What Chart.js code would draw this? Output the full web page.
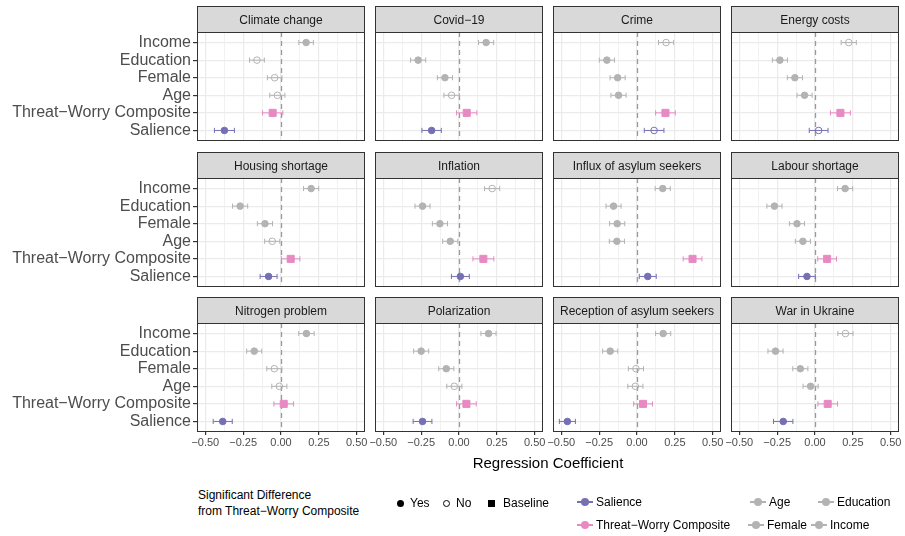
<!DOCTYPE html>
<html>
<head>
<meta charset="utf-8">
<script src="https://cdn.jsdelivr.net/npm/chart.js@4.4.1/dist/chart.umd.min.js"></script>
<style>
  body { margin: 0; background: #fff; width: 905px; height: 536px; position: relative; overflow: hidden;
         font-family: "Liberation Sans", Arial, sans-serif; }
  canvas { position: absolute; }
  .t { position: absolute; white-space: nowrap; color: #000; font-size: 12px; line-height: 16px; }
  .key { position: absolute; width: 16px; height: 10px; }
  .key .ln { position: absolute; left: 0; top: 4px; width: 16px; height: 1.5px; }
  .key .pt { position: absolute; left: 4px; top: 1px; width: 8px; height: 8px; border-radius: 50%; }
  .shp { position: absolute; box-sizing: border-box; }
</style>
</head>
<body>
<div id="wrap"></div>
<div class="t" style="left:0;width:1096px;top:454px;font-size:15px;line-height:18px;text-align:center;color:#000;">Regression Coefficient</div>

<div class="t" style="left:198px;top:487px;">Significant Difference<br>from Threat−Worry Composite</div>
<div class="shp" style="left:397px;top:500px;width:7px;height:7px;border-radius:50%;background:#000;"></div>
<div class="t" style="left:410px;top:495px;">Yes</div>
<div class="shp" style="left:443px;top:500px;width:7px;height:7px;border-radius:50%;border:1px solid #000;"></div>
<div class="t" style="left:456px;top:495px;">No</div>
<div class="shp" style="left:488px;top:500px;width:7px;height:7px;background:#000;"></div>
<div class="t" style="left:503px;top:495px;">Baseline</div>

<script>
const topics = ["Climate change", "Covid−19", "Crime", "Energy costs",
  "Housing shortage", "Inflation", "Influx of asylum seekers", "Labour shortage",
  "Nitrogen problem", "Polarization", "Reception of asylum seekers", "War in Ukraine"];
const variables = ["Income", "Education", "Female", "Age", "Threat−Worry Composite", "Salience"];
const xTicks = [-0.5, -0.375, -0.25, -0.125, 0, 0.125, 0.25, 0.375, 0.5];

// point estimates, order follows `variables`
const estimates = [
  [0.166, -0.159, -0.042, -0.024, -0.055, -0.374],
  [0.179, -0.270, -0.093, -0.049, 0.051, -0.181],
  [0.192, -0.199, -0.128, -0.122, 0.188, 0.113],
  [0.223, -0.232, -0.133, -0.069, 0.168, 0.024],
  [0.199, -0.270, -0.106, -0.058, 0.064, -0.082],
  [0.219, -0.241, -0.126, -0.058, 0.161, 0.009],
  [0.170, -0.155, -0.131, -0.133, 0.367, 0.071],
  [0.199, -0.268, -0.119, -0.080, 0.080, -0.053],
  [0.168, -0.177, -0.044, -0.011, 0.018, -0.385],
  [0.195, -0.250, -0.084, -0.031, 0.049, -0.241],
  [0.173, -0.177, -0.007, -0.011, 0.040, -0.460],
  [0.201, -0.261, -0.097, -0.029, 0.084, -0.210]
];
// half width of the confidence intervals
const halfCI = [
  [0.048, 0.049, 0.048, 0.050, 0.067, 0.066],
  [0.050, 0.050, 0.050, 0.051, 0.067, 0.064],
  [0.050, 0.050, 0.050, 0.050, 0.065, 0.065],
  [0.050, 0.050, 0.050, 0.050, 0.066, 0.062],
  [0.050, 0.050, 0.050, 0.050, 0.061, 0.056],
  [0.050, 0.050, 0.050, 0.050, 0.069, 0.059],
  [0.050, 0.050, 0.050, 0.050, 0.062, 0.056],
  [0.050, 0.050, 0.050, 0.050, 0.062, 0.055],
  [0.051, 0.050, 0.050, 0.050, 0.065, 0.063],
  [0.050, 0.050, 0.050, 0.050, 0.065, 0.062],
  [0.050, 0.050, 0.050, 0.050, 0.062, 0.053],
  [0.050, 0.050, 0.050, 0.050, 0.065, 0.064]
];
// Y = significant, N = not significant, B = baseline
const signif = [
  ["Y", "N", "N", "N", "B", "Y"],
  ["Y", "Y", "Y", "N", "B", "Y"],
  ["N", "Y", "Y", "Y", "B", "N"],
  ["N", "Y", "Y", "Y", "B", "N"],
  ["Y", "Y", "Y", "N", "B", "Y"],
  ["N", "Y", "Y", "Y", "B", "Y"],
  ["Y", "Y", "Y", "Y", "B", "Y"],
  ["Y", "Y", "Y", "Y", "B", "Y"],
  ["Y", "Y", "N", "N", "B", "Y"],
  ["Y", "Y", "Y", "N", "B", "Y"],
  ["Y", "Y", "N", "N", "B", "Y"],
  ["N", "Y", "Y", "Y", "B", "Y"]
];

const grey = "#B3B3B3", pink = "#E78AC3", purple = "#7570B3";
const varColors = [grey, grey, grey, grey, pink, purple];

const PLOT_W = 168, PLOT_H = 109, STRIP_H = 26, PAD = 16;
const colLeft = [197, 375, 553, 731];
const rowTop = [32, 178, 323];

const isMajor = v => Math.abs(v * 4 - Math.round(v * 4)) < 1e-9;
const fmt = v => (v < 0 ? "−" : "") + Math.abs(v).toFixed(2);

const panelDecor = {
  id: "panelDecor",
  beforeDatasetsDraw(chart, args, opts) {
    const { ctx, chartArea: a, scales: { x, y } } = chart;
    const p = opts.panel;
    ctx.save();
    // dashed reference line at zero
    const x0 = Math.round(x.getPixelForValue(0)) + 0.5;
    ctx.strokeStyle = "#9A9A9A";
    ctx.lineWidth = 1.3;
    ctx.setLineDash([5, 4]);
    ctx.beginPath();
    ctx.moveTo(x0, a.top);
    ctx.lineTo(x0, a.bottom);
    ctx.stroke();
    ctx.setLineDash([]);
    // error bars
    ctx.lineWidth = 1;
    estimates[p].forEach((v, i) => {
      const yy = y.getPixelForValue(i + 1);
      const lo = x.getPixelForValue(v - halfCI[p][i]);
      const hi = x.getPixelForValue(v + halfCI[p][i]);
      ctx.strokeStyle = varColors[i];
      ctx.beginPath();
      ctx.moveTo(lo, yy); ctx.lineTo(hi, yy);
      ctx.moveTo(lo, yy - 2.6); ctx.lineTo(lo, yy + 2.6);
      ctx.moveTo(hi, yy - 2.6); ctx.lineTo(hi, yy + 2.6);
      ctx.stroke();
    });
    ctx.restore();
  },
  afterDraw(chart, args, opts) {
    const { ctx, chartArea: a } = chart;
    const l = Math.round(a.left) + 0.5, r = Math.round(a.right) - 0.5;
    const t = Math.round(a.top) + 0.5, b = Math.round(a.bottom) - 0.5;
    ctx.save();
    // strip
    ctx.fillStyle = "#D9D9D9";
    ctx.fillRect(l, t - STRIP_H, r - l, STRIP_H);
    ctx.strokeStyle = "#333333";
    ctx.lineWidth = 1;
    ctx.strokeRect(l, t - STRIP_H, r - l, STRIP_H);
    ctx.fillStyle = "#1A1A1A";
    ctx.font = '12px "Liberation Sans", Arial, sans-serif';
    ctx.textAlign = "center";
    ctx.textBaseline = "middle";
    ctx.fillText(opts.title, (l + r) / 2, t - STRIP_H / 2 + 1);
    // panel border
    ctx.strokeRect(l, t, r - l, b - t);
    ctx.restore();
  }
};

const wrap = document.getElementById("wrap");

topics.forEach((topic, p) => {
  const row = Math.floor(p / 4), col = p % 4;
  const first = col === 0, bottom = row === 2;
  const yAxisW = first ? colLeft[0] : 0;
  const xAxisH = bottom ? 24 : 0;
  const padBottom = bottom ? 2 : 14;
  const left = first ? 0 : colLeft[col] - PAD;
  const top = rowTop[row] - STRIP_H - 2;
  const width = colLeft[col] + PLOT_W + PAD - left;
  const height = STRIP_H + 2 + PLOT_H + xAxisH + padBottom;

  const canvas = document.createElement("canvas");
  canvas.width = width;
  canvas.height = height;
  canvas.style.left = left + "px";
  canvas.style.top = top + "px";
  wrap.appendChild(canvas);

  new Chart(canvas.getContext("2d"), {
    type: "scatter",
    data: {
      datasets: [{
        data: estimates[p].map((v, i) => ({ x: v, y: i + 1 })),
        pointStyle: signif[p].map(s => (s === "B" ? "rect" : "circle")),
        pointRadius: signif[p].map(s => (s === "B" ? 5 : 3.3)),
        pointHoverRadius: signif[p].map(s => (s === "B" ? 5 : 3.3)),
        pointBackgroundColor: signif[p].map((s, i) => (s === "N" ? "rgba(0,0,0,0)" : varColors[i])),
        pointBorderColor: varColors,
        pointBorderWidth: 1
      }]
    },
    options: {
      responsive: false,
      animation: false,
      events: [],
      layout: { padding: { left: first ? 0 : PAD, right: PAD, top: STRIP_H + 2, bottom: padBottom } },
      scales: {
        x: {
          type: "linear",
          min: -0.555,
          max: 0.555,
          afterBuildTicks: axis => { axis.ticks = xTicks.map(v => ({ value: v })); },
          afterFit: axis => { axis.height = xAxisH; },
          border: { display: false },
          grid: {
            color: "#EBEBEB",
            lineWidth: c => (c.tick && isMajor(c.tick.value) ? 1.2 : 0.7),
            drawTicks: bottom,
            tickLength: 3,
            tickColor: c => (c.tick && isMajor(c.tick.value) ? "#333333" : "rgba(0,0,0,0)")
          },
          ticks: {
            display: bottom,
            autoSkip: false,
            maxRotation: 0,
            padding: 1,
            color: "#4D4D4D",
            font: { size: 11, family: '"Liberation Sans", Arial, sans-serif' },
            callback: v => (isMajor(v) ? fmt(v) : "")
          }
        },
        y: {
          type: "linear",
          reverse: true,
          min: 0.4,
          max: 6.6,
          afterBuildTicks: axis => { axis.ticks = variables.map((v, i) => ({ value: i + 1 })); },
          afterFit: axis => { axis.width = yAxisW; },
          border: { display: false },
          grid: {
            color: "#EBEBEB",
            lineWidth: 1.2,
            drawTicks: first,
            tickLength: 4,
            tickColor: "#333333"
          },
          ticks: {
            display: first,
            autoSkip: false,
            padding: 2,
            color: "#4D4D4D",
            font: { size: 16, family: '"Liberation Sans", Arial, sans-serif' },
            callback: v => variables[v - 1]
          }
        }
      },
      plugins: {
        legend: { display: false },
        tooltip: { enabled: false },
        panelDecor: { panel: p, title: topic }
      }
    },
    plugins: [panelDecor]
  });
});

// colour legend keys
const keys = [
  [577, 497, purple, "Salience"],
  [577, 520, pink, "Threat−Worry Composite"],
  [750, 497, grey, "Age"],
  [818, 497, grey, "Education"],
  [748, 520, grey, "Female"],
  [811, 520, grey, "Income"]
];
keys.forEach(([x, y, c, label]) => {
  const k = document.createElement("div");
  k.className = "key";
  k.style.left = x + "px";
  k.style.top = y + "px";
  k.innerHTML = '<div class="ln" style="background:' + c + '"></div><div class="pt" style="background:' + c + '"></div>';
  document.body.appendChild(k);
  const t = document.createElement("div");
  t.className = "t";
  t.style.left = (x + 19) + "px";
  t.style.top = (y - 3) + "px";
  t.textContent = label;
  document.body.appendChild(t);
});
</script>
</body>
</html>
